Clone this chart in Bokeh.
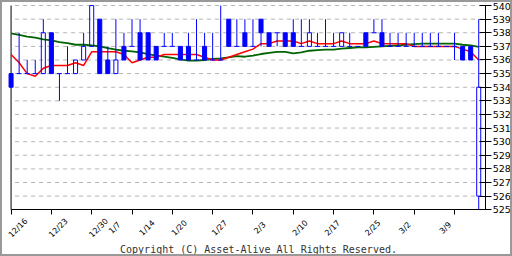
from math import pi
import numpy as np
from bokeh.plotting import figure
from bokeh.models import Range1d, FixedTicker
from bokeh.core.properties import value
from bokeh.embed import file_html
from bokeh.resources import INLINE

# ---- data (daily candles, 12/16 .. 3/16) ----
opens = [535, 535, 535, 535, 535, 538, 535, 535, 535, 536,
         537, 539, 536, 535, 537, 537, 538, 538, 537, 537,
         537, 537, 537, 536, 537, 536, 536, 539, 537, 538,
         537, 539, 538, 538, 538, 538, 537, 537, 537, 537,
         537, 537, 537, 537, 538, 538, 538, 537, 537, 537,
         537, 537, 537, 537, 537, 537, 537, 537, 526]
highs = [535, 538, 536, 536, 539, 538, 535, 537, 536, 538,
         540, 539, 537, 539, 538, 539, 539, 538, 537, 538,
         538, 537, 538, 539, 538, 538, 540, 539, 539, 539,
         539, 539, 538, 538, 538, 539, 539, 539, 538, 539,
         538, 538, 538, 537, 538, 539, 539, 538, 538, 538,
         538, 538, 538, 538, 537, 538, 537, 537, 539]
lows = [534, 535, 535, 535, 535, 535, 533, 535, 535, 536,
        537, 535, 535, 535, 536, 537, 536, 536, 536, 537,
        537, 536, 536, 536, 536, 536, 536, 537, 537, 537,
        537, 537, 537, 537, 537, 537, 537, 537, 537, 537,
        537, 537, 537, 537, 537, 538, 537, 537, 537, 537,
        537, 537, 537, 537, 537, 536, 536, 536, 525]
closes = [534, 535, 535, 535, 538, 535, 535, 535, 536, 537,
          540, 535, 535, 536, 536, 537, 536, 536, 536, 537,
          537, 536, 536, 536, 536, 536, 536, 537, 537, 537,
          537, 538, 537, 538, 537, 537, 537, 538, 537, 537,
          537, 538, 537, 537, 537, 538, 537, 537, 537, 537,
          537, 537, 537, 537, 537, 537, 536, 536, 534]
ma_short = [536.4, 535.8, 535.0, 534.8, 535.4, 535.6, 535.6, 535.6, 535.8, 535.6,
            536.6, 536.6, 536.6, 536.6, 536.4, 535.8, 536.0, 536.2, 536.2, 536.4,
            536.4, 536.4, 536.4, 536.4, 536.2, 536.0, 536.0, 536.2, 536.4, 536.6,
            536.8, 537.2, 537.2, 537.4, 537.4, 537.4, 537.2, 537.4, 537.2, 537.2,
            537.2, 537.4, 537.2, 537.2, 537.2, 537.4, 537.2, 537.2, 537.2, 537.2,
            537.0, 537.0, 537.0, 537.0, 537.0, 537.0, 536.8, 536.6, 536.0]
ma_long = [537.96, 537.84, 537.72, 537.64, 537.52, 537.44, 537.32, 537.24, 537.12, 537.12,
           537.08, 537.00, 536.88, 536.76, 536.68, 536.64, 536.56, 536.44, 536.32, 536.24,
           536.16, 536.04, 535.96, 535.96, 536.00, 536.08, 536.12, 536.20, 536.28, 536.24,
           536.32, 536.44, 536.52, 536.60, 536.60, 536.48, 536.56, 536.68, 536.72, 536.76,
           536.76, 536.84, 536.88, 536.92, 536.92, 536.96, 537.00, 537.04, 537.08, 537.12,
           537.16, 537.20, 537.20, 537.20, 537.20, 537.20, 537.12, 537.08, 536.96]
date_labels = ["12/16", "12/23", "12/30", "1/7", "1/14", "1/20", "1/27",
               "2/3", "2/10", "2/17", "2/25", "3/2", "3/9"]
date_label_pos = [0, 5, 10, 12, 16, 20, 25, 30, 35, 39, 44, 48, 53]
week_ticks = [0, 5, 10, 15, 20, 25, 30, 35, 40, 45, 50, 55]
price_ticks = list(range(525, 541))
copyright_text = "Copyright (C) Asset-Alive All Rights Reserved."

BLUE = "#0000ff"
PX_PER_DAY = 8.0      # horizontal pixels per trading day
PX_PER_YEN = 13.4     # vertical pixels per price unit
X_LEFT_PX, Y_TOP_PX = 10.5, 5.0   # page position of day 0 / price 540


def xd(px):  # page pixel -> day index
    return (px - X_LEFT_PX) / PX_PER_DAY


def yd(py):  # page pixel -> price
    return 540 - (py - Y_TOP_PX) / PX_PER_YEN


o = np.array(opens, dtype=float)
c = np.array(closes, dtype=float)
h = np.array(highs, dtype=float)
l = np.array(lows, dtype=float)
idx = np.arange(len(c))
top = np.maximum(o, c)
bot = np.minimum(o, c)
up = c > o
down = c < o
flat = c == o

X_AXIS_RIGHT = xd(481.5)

p = figure(width=512, height=256,
           x_range=Range1d(xd(2), xd(510)), y_range=Range1d(yd(254), yd(2)),
           y_axis_location="right", toolbar_location=None, output_backend="svg",
           min_border=0, styles={"border": "2px solid #999999"})
p.outline_line_color = None
p.background_fill_color = "white"
p.border_fill_color = "white"
p.grid.visible = False

# right price axis, fixed at the chart's right edge
ya = p.yaxis[0]
ya.fixed_location = X_AXIS_RIGHT
ya.bounds = (525, 540)
ya.ticker = FixedTicker(ticks=price_ticks)
ya.minor_tick_line_color = None
ya.major_tick_in = 6
ya.major_tick_out = 6
ya.major_label_standoff = 1
ya.major_label_text_font = "DejaVu Sans"
ya.major_label_text_font_size = "9.5px"
ya.major_label_text_color = "black"
ya.axis_line_color = "black"
ya.major_tick_line_color = "black"

# bottom axis at price 525 with weekly tick marks
xa = p.xaxis[0]
xa.fixed_location = 525
xa.bounds = (0, X_AXIS_RIGHT)
xa.ticker = FixedTicker(ticks=[], minor_ticks=week_ticks)
xa.major_tick_line_color = None
xa.minor_tick_line_color = "black"
xa.minor_tick_in = 0
xa.minor_tick_out = 5
xa.axis_line_color = "black"

# dashed horizontal grid lines between the two axes
gy = np.array(price_ticks[1:], dtype=float)
p.segment(np.zeros_like(gy), gy, np.full_like(gy, X_AXIS_RIGHT), gy,
          line_color="#b4b4b4", line_width=1, line_dash="4 4", line_dash_offset=4)

# left axis line
p.segment([0], [525], [0], [540], line_color="black", line_width=1)

# moving averages
p.line(idx, ma_long, line_color="#006400", line_width=1.8)
p.line(idx, ma_short, line_color="#ff0000", line_width=1.5)

# wicks (outside body)
p.segment(idx, h, idx, top, line_color=BLUE, line_width=1)
p.segment(idx, bot, idx, l, line_color=BLUE, line_width=1)

# bodies
p.vbar(x=idx[down], top=o[down], bottom=c[down], width=0.5,
       fill_color=BLUE, line_color=BLUE, line_width=1)
p.vbar(x=idx[up], top=c[up], bottom=o[up], width=0.5,
       fill_alpha=0, line_color=BLUE, line_width=1)
p.segment(idx[flat] - 0.3125, o[flat], idx[flat] + 0.3125, o[flat],
          line_color=BLUE, line_width=1)

# rotated date labels
p.text(x=np.array(date_label_pos) + 7.0 / PX_PER_DAY,
       y=[yd(224)] * len(date_labels), text=date_labels, angle=pi / 4,
       text_align="center", text_baseline="middle",
       text_font=value("DejaVu Sans"), text_font_size="8px", text_color="black")

# copyright line
p.text(x=[xd(256)], y=[yd(245.5)], text=[copyright_text],
       text_align="center", text_baseline="middle",
       text_font=value("DejaVu Sans Mono"), text_font_size="10px",
       text_color="#333333")

open("out.html", "w").write(file_html(p, INLINE))
